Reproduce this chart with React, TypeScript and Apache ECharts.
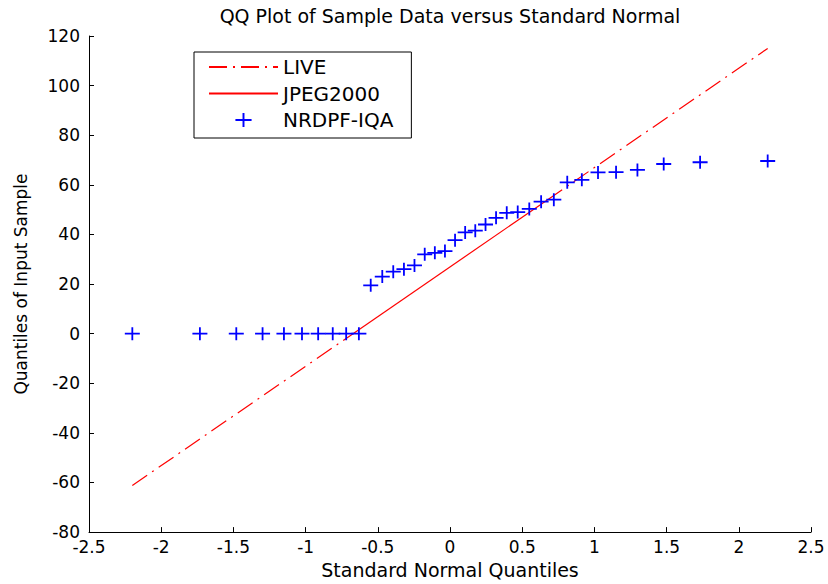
import React, { useEffect, useRef } from "react";
import * as echarts from "echarts";

// Theoretical standard normal quantiles (x) and sorted sample values (y)
const normalQuantiles = [
  -2.2, -1.732, -1.48, -1.298, -1.15, -1.025, -0.913, -0.812, -0.719, -0.631,
  -0.549, -0.469, -0.393, -0.319, -0.246, -0.175, -0.105, -0.035, 0.035, 0.105,
  0.175, 0.246, 0.319, 0.393, 0.469, 0.549, 0.631, 0.719, 0.812, 0.913,
  1.025, 1.15, 1.298, 1.48, 1.732, 2.2,
];
const sampleQuantiles = [
  0, 0, 0, 0, 0, 0, 0, 0, 0, 0,
  19.5, 23, 25, 26, 27.5, 32, 32.6, 33.3, 37.7, 40.8,
  41.5, 44, 46.7, 48.7, 49, 50.3, 53.2, 54, 61, 62,
  65, 65.1, 66, 68.4, 69.1, 69.6,
];

// Reference line: dash-dot extensions (LIVE) and solid inter-quartile segment (JPEG2000)
const liveLower = [[-2.2, -61.2], [-0.674, -0.1]];
const liveUpper = [[0.674, 53.9], [2.2, 115]];
const jpegSegment = [[-0.674, -0.1], [0.674, 53.9]];

const seriesNames = ["LIVE", "JPEG2000", "NRDPF-IQA"];
const chartTitle = "QQ Plot of Sample Data versus Standard Normal";
const xAxisName = "Standard Normal Quantiles";
const yAxisName = "Quantiles of Input Sample";

const FONT = "DejaVu Sans";
const PLUS = "path://M0,5.6H6.6V0H8.4V5.6H15V7.4H8.4V13H6.6V7.4H0Z";

export default function App() {
  const ref = useRef<HTMLDivElement>(null);

  useEffect(() => {
    document.body.style.margin = "0";
    const chart = echarts.init(ref.current!, null, { renderer: "svg" });
    const points = normalQuantiles.map((x, i) => [x, sampleQuantiles[i]]);
    const dashDot = [18, 6, 2, 6];

    chart.setOption({
      animation: false,
      backgroundColor: "#ffffff",
      title: {
        text: chartTitle,
        left: 450,
        top: 6,
        padding: 0,
        textAlign: "center",
        textStyle: { fontFamily: FONT, fontSize: 19, fontWeight: "normal", color: "#000" },
      },
      legend: {
        left: 194,
        top: 52,
        orient: "vertical",
        selectedMode: false,
        data: [
          { name: seriesNames[0], itemStyle: { opacity: 0 } },
          { name: seriesNames[1], itemStyle: { opacity: 0 } },
          { name: seriesNames[2] },
        ],
        itemWidth: 69,
        itemHeight: 14,
        itemGap: 6.5,
        padding: [5, 18, 8, 14],
        borderColor: "#000",
        borderWidth: 1,
        backgroundColor: "#fff",
        textStyle: { fontFamily: FONT, fontSize: 20, color: "#000" },
      },
      grid: { left: 89, right: 17, top: 36, bottom: 51, containLabel: false },
      xAxis: {
        type: "value",
        min: -2.5,
        max: 2.5,
        interval: 0.5,
        name: xAxisName,
        nameLocation: "middle",
        nameGap: 27,
        nameTextStyle: { fontFamily: FONT, fontSize: 19, color: "#000" },
        axisLine: { show: true, onZero: false, lineStyle: { color: "#000", width: 1 } },
        axisTick: { show: true, inside: true, length: 5, lineStyle: { color: "#000" } },
        axisLabel: { margin: 6, fontFamily: FONT, fontSize: 17, color: "#000" },
        splitLine: { show: false },
      },
      yAxis: {
        type: "value",
        min: -80,
        max: 120,
        interval: 20,
        name: yAxisName,
        nameLocation: "middle",
        nameGap: 60,
        nameTextStyle: { fontFamily: FONT, fontSize: 17, color: "#000" },
        axisLine: { show: true, onZero: false, lineStyle: { color: "#000", width: 1 } },
        axisTick: { show: true, inside: true, length: 5, lineStyle: { color: "#000" } },
        axisLabel: { margin: 9, fontFamily: FONT, fontSize: 17, color: "#000" },
        splitLine: { show: false },
      },
      series: [
        {
          name: "LIVE",
          type: "line",
          data: liveLower,
          symbol: "none",
          lineStyle: { color: "#ff0000", width: 1.2, type: dashDot },
          itemStyle: { color: "#ff0000" },
          z: 2,
        },
        {
          name: "LIVE",
          type: "line",
          data: liveUpper,
          symbol: "none",
          lineStyle: { color: "#ff0000", width: 1.2, type: dashDot },
          itemStyle: { color: "#ff0000" },
          z: 2,
        },
        {
          name: "JPEG2000",
          type: "line",
          data: jpegSegment,
          symbol: "none",
          lineStyle: { color: "#ff0000", width: 1.2, type: "solid" },
          itemStyle: { color: "#ff0000" },
          z: 2,
        },
        {
          name: "NRDPF-IQA",
          type: "scatter",
          data: points,
          symbol: PLUS,
          symbolSize: [15, 13],
          symbolKeepAspect: false,
          itemStyle: { color: "#0000ff", opacity: 1 },
          z: 3,
        },
      ],
    });

    return () => chart.dispose();
  }, []);

  return (
    <div
      ref={ref}
      style={{ position: "fixed", left: 0, top: 0, width: 828, height: 584, background: "#fff" }}
    />
  );
}
